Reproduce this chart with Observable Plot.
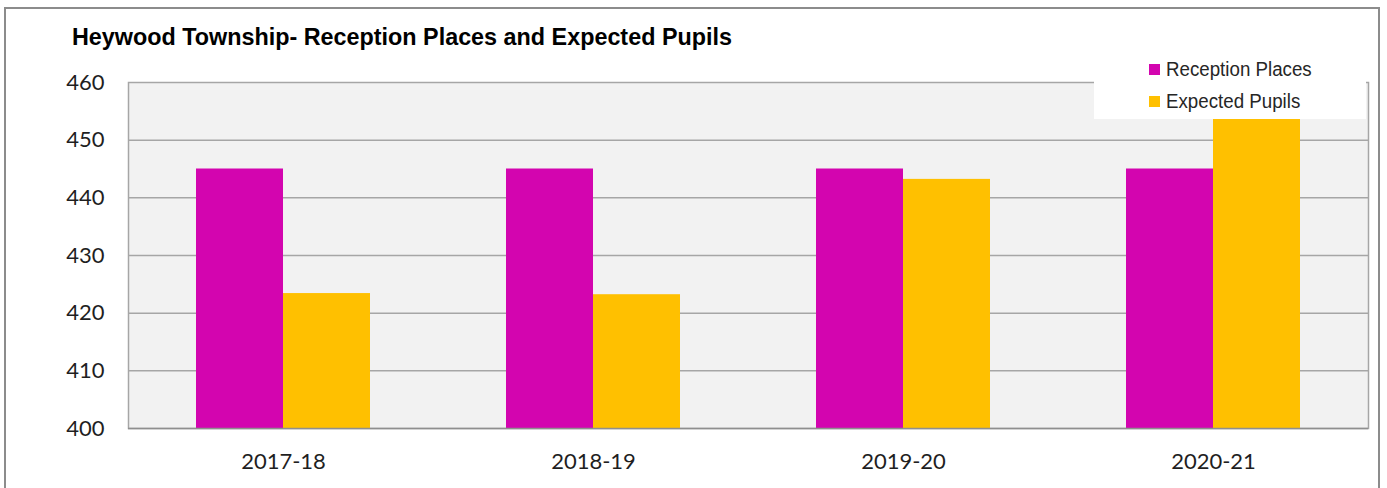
<!DOCTYPE html>
<html>
<head>
<meta charset="utf-8">
<script src="https://cdn.jsdelivr.net/npm/d3@7"></script>
<script src="https://cdn.jsdelivr.net/npm/@observablehq/plot@0.6"></script>
<style>
  html, body { margin: 0; padding: 0; background: #ffffff; }
  #wrap { position: relative; width: 1387px; height: 488px; overflow: hidden; }
  #border { position: absolute; left: 4px; top: 7px; width: 1376px; height: 520px; box-sizing: border-box; border: 2px solid #8c8c8c; }
  #title { position: absolute; left: 72px; top: 23px; font-family: "Liberation Sans", Arial, sans-serif; font-weight: bold; font-size: 24.5px; color: #000; white-space: nowrap; transform: scaleX(0.953); transform-origin: 0 0; }
  #chart { position: absolute; left: 0; top: 0; }
  #legend { position: absolute; left: 1094px; top: 48px; width: 272px; height: 71px; background: #fff; font-family: "Liberation Sans", Arial, sans-serif; font-size: 19.5px; color: #262626; }
  .item { position: absolute; left: 55px; display: flex; align-items: center; white-space: nowrap; }
  .item span { display: inline-block; transform: scaleX(0.96); transform-origin: 0 50%; }
  .sw { width: 11px; height: 11px; margin-right: 6px; }
</style>
</head>
<body>
<div id="wrap">
  <div id="border"></div>
  <div id="chart"></div>
  <div id="title"></div>
  <div id="legend"></div>
</div>
<script>
const titleText = "Heywood Township- Reception Places and Expected Pupils";
const categories = ["2017-18", "2018-19", "2019-20", "2020-21"];
const seriesNames = ["Reception Places", "Expected Pupils"];
const receptionPlaces = [445, 445, 445, 445];
const expectedPupils = [423.4, 423.2, 443.2, 457];
const seriesColors = ["#D305AF", "#FFC000"];
const yTicks = [400, 410, 420, 430, 440, 450, 460];

const data = categories.flatMap((c, i) => [
  {year: c, series: seriesNames[0], value: receptionPlaces[i]},
  {year: c, series: seriesNames[1], value: expectedPupils[i]}
]);

const chart = Plot.plot({
  width: 1387,
  height: 488,
  marginLeft: 127,
  marginRight: 19,
  marginTop: 82,
  marginBottom: 60,
  style: {fontFamily: "Lato, sans-serif", fontSize: "22px", color: "#1f1f1f", background: "transparent"},
  fx: {domain: categories, padding: 0, label: null, axis: "bottom", tickSize: 0, tickPadding: 25},
  x: {domain: seriesNames, paddingInner: 0, paddingOuter: 0.763, axis: null},
  y: {domain: [yTicks[0], yTicks[yTicks.length - 1]], ticks: yTicks, tickSize: 0, tickPadding: 24, label: null},
  color: {domain: seriesNames, range: seriesColors},
  marks: [
    Plot.frame({fill: "#F2F2F2", stroke: "#A6A6A6", strokeWidth: 1.5, facet: "super"}),
    Plot.ruleY(yTicks.slice(1, -1), {stroke: "#A6A6A6", strokeWidth: 1.5}),
    Plot.barY(data, {fx: "year", x: "series", y1: yTicks[0], y2: "value", fill: "series"}),
    Plot.ruleY([yTicks[0]], {stroke: "#8f8f8f", strokeWidth: 1.5})
  ]
});
document.getElementById("chart").appendChild(chart);

document.getElementById("title").textContent = titleText;
const legend = document.getElementById("legend");
seriesNames.forEach((s, i) => {
  const it = document.createElement("div");
  it.className = "item";
  it.style.top = (i === 0 ? 10 : 42) + "px";
  const sw = document.createElement("div");
  sw.className = "sw";
  sw.style.background = seriesColors[i];
  const t = document.createElement("span");
  t.textContent = s;
  it.appendChild(sw);
  it.appendChild(t);
  legend.appendChild(it);
});
</script>
</body>
</html>
